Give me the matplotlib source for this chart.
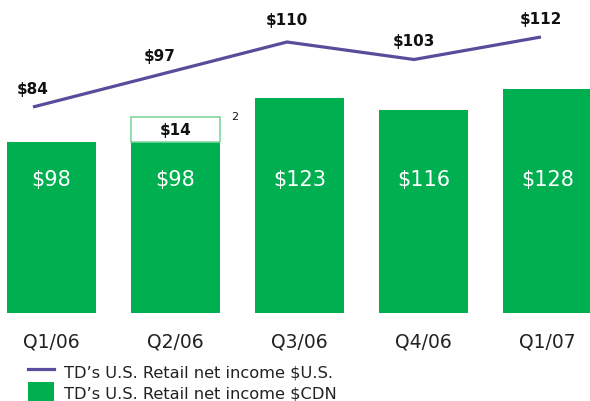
import matplotlib
matplotlib.use("Agg")
import matplotlib.pyplot as plt
from matplotlib.lines import Line2D
from matplotlib.patches import Patch

quarters = ["Q1/06", "Q2/06", "Q3/06", "Q4/06", "Q1/07"]
cdn_values = [98, 98, 123, 116, 128]
us_values = [84, 97, 110, 103, 112]
extra_q2 = 14  # additional $CDN amount shown on Q2/06 (footnote 2)

GREEN = "#00B050"
PURPLE = "#5B4B9B"
TEXT = "#111111"

W, H = 590, 402
fig = plt.figure(figsize=(W / 100, H / 100), dpi=100)

bottom_px = 314
ax = fig.add_axes([0, 1 - bottom_px / H, 1, bottom_px / H])
x = list(range(len(quarters)))
ax.bar(x, cdn_values, width=0.72, color=GREEN, edgecolor="none", zorder=2)
# Q2 extra stacked outline box
ax.bar([1], [extra_q2], bottom=[cdn_values[1]], width=0.71, color="white",
       edgecolor="#7fd4a0", linewidth=1.2, zorder=2)
ax.text(1, cdn_values[1] + extra_q2 / 2, f"${extra_q2}", ha="center", va="center",
        fontsize=11, fontweight="bold", color=TEXT, zorder=3)
ax.text(1 + 0.445, cdn_values[1] + extra_q2 + 0.3, "2", ha="left", va="center",
        fontsize=8, color=TEXT)
for xi, v in zip(x, cdn_values):
    ax.text(xi, 76.6, f"${v}", ha="center", va="center", fontsize=15,
            color="white", zorder=3)

ax.set_xlim(-51.5 / 124, (590 - 51.5) / 124)
ax.set_ylim(0, bottom_px / 1.75)
ax.set_xticks(x)
ax.set_xticklabels(quarters, fontsize=13.5, color="#222222")
ax.tick_params(axis="x", length=0, pad=13)
ax.set_yticks([])
for s in ax.spines.values():
    s.set_visible(False)
ax.patch.set_alpha(0)

# line axes
ax2 = fig.add_axes(ax.get_position(), frameon=False)
ax2.plot(x, us_values, color=PURPLE, linewidth=2.3, solid_capstyle="butt", zorder=4)
for xi, v in zip(x, us_values):
    dy = 16.5 if v == 110 else 13.5
    ax2.annotate(f"${v}", (xi, v), xytext=(0, dy), textcoords="offset points",
                 ha="center", va="center", fontsize=11, fontweight="bold", color=TEXT)
ax2.set_xlim(-33 / 127, (590 - 33) / 127)
ax2.set_ylim(84 - (bottom_px - 108) / 2.5, 84 + 108 / 2.5)
ax2.set_xticks([])
ax2.set_yticks([])

handles = [Line2D([0], [0], color=PURPLE, linewidth=2.3),
           Patch(facecolor=GREEN, edgecolor="none")]
labels = ["TD’s U.S. Retail net income $U.S.", "TD’s U.S. Retail net income $CDN"]
fig.legend(handles, labels, loc="upper left", bbox_to_anchor=(28 / W, 1 - 363 / H),
           frameon=False, fontsize=11.7, handlelength=1.6, handleheight=1.4,
           handletextpad=0.6, labelspacing=0.1, borderpad=0, borderaxespad=0,
           labelcolor="#222222")

fig.savefig("out.png", dpi=100)
